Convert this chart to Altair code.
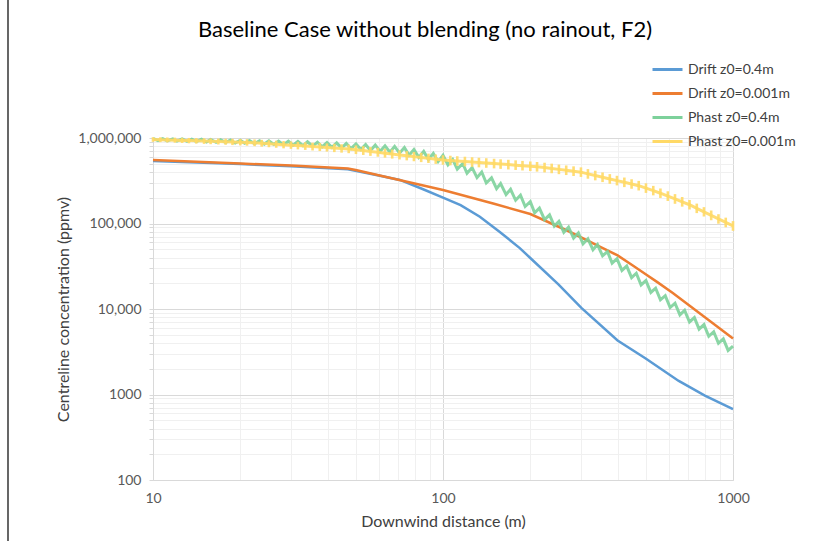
import numpy as np
import pandas as pd
import altair as alt

FONT = "Lato"

# ---------------- data ----------------
SERIES = ["Drift z0=0.4m", "Drift z0=0.001m", "Phast z0=0.4m", "Phast z0=0.001m"]

BLUE_D = [10, 20, 30, 47, 60, 71, 85, 100, 115, 134, 157, 184, 200, 250, 300, 400, 500, 650, 800, 1000]
BLUE_C = [538000, 495000, 466000, 432000, 365000, 323000, 253000, 201000, 164000, 120000, 79600, 51600,
          39500, 19400, 10300, 4280, 2640, 1440, 972, 676]

ORANGE_D = [10, 20, 30, 47, 50, 100, 150, 200, 270, 350, 400, 450, 500, 550, 620, 800, 1000]
ORANGE_C = [553000, 503000, 476000, 440000, 423000, 247000, 170000, 129000, 81700, 53100, 42300, 32500,
            25500, 20500, 15400, 8020, 4520]

# Phast z0=0.4m : saw-tooth output, every vertex
GREEN_D = [10, 10.4, 10.8, 11.2, 11.7, 12.1, 12.6, 13.1, 13.6, 14.1,
           14.7, 15.3, 15.8, 16.5, 17.1, 17.8, 18.5, 19.2, 20.0, 20.7,
           21.5, 22.4, 23.3, 24.2, 25.1, 26.1, 27.1, 28.2, 29.3, 30.4,
           31.6, 32.9, 34.1, 35.5, 36.9, 38.3, 39.8, 41.4, 43.0, 44.7,
           46.4, 48.2, 50.1, 52.1, 54.1, 56.2, 58.4, 60.7, 63.1, 65.6,
           68.1, 70.8, 73.6, 76.4, 79.4, 82.5, 85.8, 89.1, 92.6, 96.2,
           100, 104, 108, 112, 117, 121, 126, 131, 136, 141,
           147, 153, 158, 165, 171, 178, 185, 192, 200, 207,
           215, 224, 233, 242, 251, 261, 271, 282, 293, 304,
           316, 329, 341, 355, 369, 383, 398, 414, 430, 447,
           464, 482, 501, 521, 541, 562, 584, 607, 631, 656,
           681, 708, 736, 764, 794, 825, 858, 891, 926, 962, 1000]
GREEN_C = [987000, 932000, 982000, 925000, 978000, 919000, 974000, 913000, 970000, 906000,
           966000, 899000, 960000, 891000, 953000, 883000, 947000, 875000, 941000, 867000,
           935000, 858000, 930000, 849000, 925000, 840000, 921000, 832000, 916000, 823000,
           911000, 813000, 903000, 801000, 893000, 788000, 884000, 776000, 875000, 764000,
           866000, 751000, 853000, 733000, 839000, 715000, 825000, 698000, 811000, 681000,
           797000, 665000, 772000, 628000, 733000, 593000, 697000, 560000, 661000, 529000,
           627000, 486000, 562000, 433000, 503000, 386000, 451000, 344000, 400000, 298000,
           342000, 255000, 293000, 218000, 251000, 187000, 214000, 158000, 180000, 133000,
           151000, 111000, 126000, 93300, 106000, 78900, 90500, 67500, 77400, 57700,
           66200, 49400, 56700, 41800, 47000, 34400, 38700, 28300, 31800, 23300,
           26200, 19100, 21500, 15600, 17500, 12800, 14300, 10400, 11700, 8540,
           9620, 7050, 7940, 5820, 6560, 4800, 5420, 3970, 4470, 3280, 3690]

# Phast z0=0.001m : comb-like output, low and high value at each distance
YEL_D = [10, 10.6, 11.2, 11.9, 12.6, 13.3, 14.1, 15.0, 15.8, 16.8,
         17.8, 18.8, 20.0, 21.1, 22.4, 23.7, 25.1, 26.6, 28.2, 29.9,
         31.6, 33.5, 35.5, 37.6, 39.8, 42.2, 44.7, 47.3, 50.1, 53.1,
         56.2, 59.6, 63.1, 66.8, 70.8, 75.0, 79.4, 84.1, 89.1, 94.4,
         100, 106, 112, 119, 126, 133, 141, 150, 158, 168,
         178, 188, 200, 211, 224, 237, 251, 266, 282, 299,
         316, 335, 355, 376, 398, 422, 447, 473, 501, 531,
         562, 596, 631, 668, 708, 750, 794, 841, 891, 944, 1000]
YEL_LO = [935000, 927000, 920000, 913000, 905000, 898000, 891000, 884000, 877000, 870000,
          863000, 856000, 849000, 842000, 832000, 820000, 808000, 796000, 784000, 773000,
          762000, 751000, 740000, 729000, 719000, 708000, 698000, 688000, 672000, 656000,
          640000, 625000, 610000, 595000, 581000, 567000, 554000, 541000, 528000, 516000,
          504000, 496000, 490000, 483000, 476000, 470000, 464000, 457000, 451000, 444000,
          438000, 432000, 425000, 419000, 410000, 401000, 391000, 382000, 372000, 363000,
          346000, 331000, 316000, 302000, 289000, 276000, 264000, 252000, 236000, 221000,
          206000, 190000, 176000, 163000, 151000, 137000, 125000, 113000, 103000, 93600, 85100]
YEL_HI = [987000, 983000, 979000, 975000, 971000, 967000, 963000, 959000, 955000, 952000,
          948000, 944000, 940000, 936000, 929000, 919000, 909000, 899000, 890000, 880000,
          871000, 861000, 852000, 843000, 834000, 825000, 816000, 808000, 791000, 774000,
          757000, 740000, 723000, 707000, 692000, 677000, 662000, 648000, 634000, 620000,
          607000, 599000, 591000, 583000, 575000, 567000, 560000, 552000, 544000, 537000,
          529000, 521000, 513000, 506000, 496000, 484000, 472000, 461000, 450000, 438000,
          418000, 400000, 382000, 365000, 349000, 333000, 318000, 304000, 285000, 266000,
          248000, 230000, 213000, 197000, 182000, 165000, 150000, 137000, 124000, 113000, 103000]

X_TICKS = [10, 20, 30, 40, 50, 60, 70, 80, 90, 100, 200, 300, 400, 500, 600, 700, 800, 900, 1000]
Y_TICKS = [100, 200, 300, 400, 500, 600, 700, 800, 900,
           1000, 2000, 3000, 4000, 5000, 6000, 7000, 8000, 9000,
           10000, 20000, 30000, 40000, 50000, 60000, 70000, 80000, 90000,
           100000, 200000, 300000, 400000, 500000, 600000, 700000, 800000, 900000, 1000000]
X_LABELS = {10: "10", 100: "100", 1000: "1000"}
Y_LABELS = {100: "100", 1000: "1000", 10000: "10,000", 100000: "100,000", 1000000: "1,000,000"}

COLORS = ["#5B9BD5", "#ED7D31", "#7DD19B", "#FFD966"]
WIDTHS = [2.5, 2.5, 3.0, 3.0]

# ---------------- build ----------------
def label_expr(labels):
    s = "''"
    for v, t in reversed(list(labels.items())):
        s = f"datum.value == {v} ? '{t}' : ({s})"
    return s


def major_test(labels):
    return " || ".join(f"datum.value == {v}" for v in labels)


x_enc = alt.X(
    "d:Q",
    scale=alt.Scale(type="log", domain=[10, 1000], nice=False),
    axis=alt.Axis(
        values=X_TICKS, labelExpr=label_expr(X_LABELS), title="Downwind distance (m)",
        grid=True, gridColor=alt.condition(major_test(X_LABELS), alt.value("#D9D9D9"), alt.value("#F0F0F0")),
        gridWidth=1, ticks=False, domainColor="#D9D9D9", labelFont=FONT, labelFontSize=14,
        labelColor="#595959", labelPadding=11, titleFont=FONT, titleFontSize=16,
        titleFontWeight="normal", titleColor="#404040", titlePadding=8, labelFlush=False,
    ),
)
y_enc = alt.Y(
    "c:Q",
    scale=alt.Scale(type="log", domain=[100, 1000000], nice=False),
    axis=alt.Axis(
        values=Y_TICKS, labelExpr=label_expr(Y_LABELS), title="Centreline concentration (ppmv)",
        grid=True, gridColor=alt.condition(major_test(Y_LABELS), alt.value("#D9D9D9"), alt.value("#F0F0F0")),
        gridWidth=1, ticks=True, tickSize=4, tickColor="#D9D9D9", domainColor="#D9D9D9",
        labelFont=FONT, labelFontSize=14, labelColor="#595959", labelPadding=8,
        titleFont=FONT, titleFontSize=16, titleFontWeight="normal", titleColor="#404040",
        titlePadding=6, labelFlush=False,
    ),
)
legend = alt.Legend(
    title=None, orient="none", legendX=498, legendY=-85, symbolType="stroke", symbolSize=900,
    symbolStrokeWidth=3, labelFont=FONT, labelFontSize=14, labelColor="#404040",
    rowPadding=-7, labelOffset=4,
)
color_enc = alt.Color("series:N", scale=alt.Scale(domain=SERIES, range=COLORS), legend=legend)

line_data = {
    SERIES[0]: (BLUE_D, BLUE_C),
    SERIES[1]: (ORANGE_D, ORANGE_C),
    SERIES[2]: (GREEN_D, GREEN_C),
}

layers = []
for name, w in zip(SERIES[:3], WIDTHS[:3]):
    ds, cs = line_data[name]
    df = pd.DataFrame({"series": name, "d": ds, "c": cs, "order": range(len(ds))})
    layers.append(
        alt.Chart(df).mark_line(strokeWidth=w, opacity=0.9 if "Phast" in name else 1).encode(
            x=x_enc, y=y_enc, color=color_enc, order="order:Q"
        )
    )

# yellow: line through the middle of each low/high pair, plus a tick from low to high
ydf = pd.DataFrame({"series": SERIES[3], "d": YEL_D, "lo": YEL_LO, "hi": YEL_HI})
ydf["c"] = np.sqrt(ydf["lo"] * ydf["hi"])
yel_line = alt.Chart(ydf).mark_line(strokeWidth=WIDTHS[3], opacity=0.9).encode(
    x=x_enc, y=y_enc, color=color_enc
)
yel_ticks = alt.Chart(ydf).mark_rule(strokeWidth=2.6, opacity=0.9, strokeCap="square").encode(
    x=x_enc, y=alt.Y("lo:Q", scale=alt.Scale(type="log", domain=[100, 1000000], nice=False)),
    y2="hi:Q", color=alt.value(COLORS[3])
)
layers += [yel_line, yel_ticks]

border = alt.Chart(pd.DataFrame({"a": [0]})).mark_rule(color="black", strokeWidth=1.2).encode(
    x=alt.value(8 - 153), y=alt.value(-138), y2=alt.value(541 - 138)
)

chart = alt.layer(*layers, border).properties(
    width=580, height=342,
    padding={"left": 153, "top": 138, "right": 82, "bottom": 61},
    autosize=alt.AutoSizeParams(type="none"),
    title=alt.TitleParams(
        "Baseline Case without blending (no rainout, F2)", font=FONT, fontSize=22,
        fontWeight="normal", color="#000000", anchor="middle", frame="group",
        baseline="alphabetic", offset=-60, dx=-18,
    ),
).configure_view(stroke=None)

chart.save("out.html", embed_options={"renderer": "svg", "actions": False})
